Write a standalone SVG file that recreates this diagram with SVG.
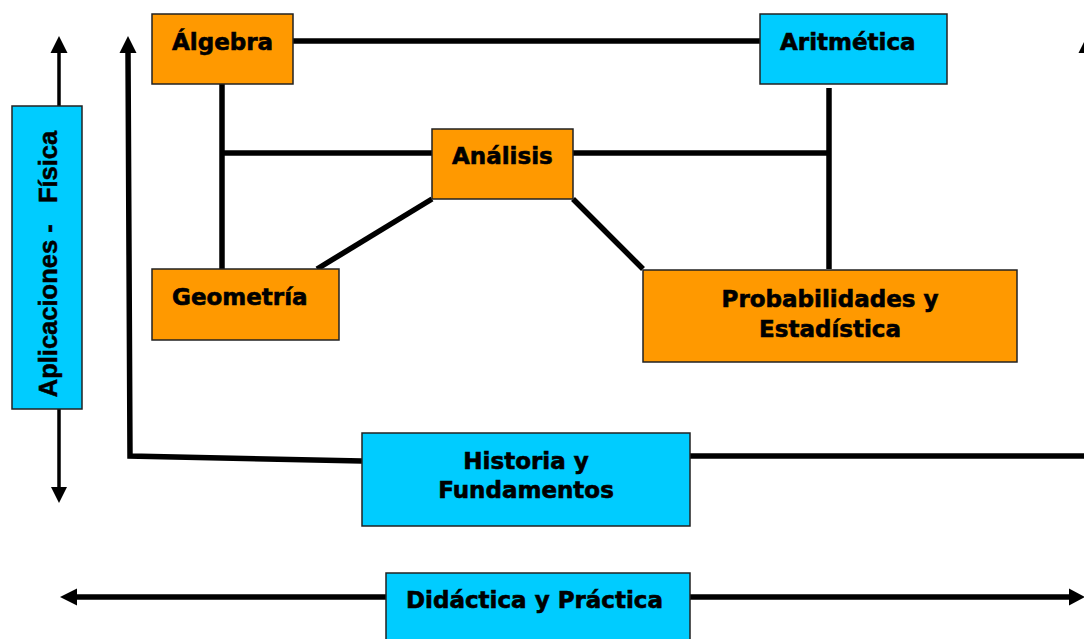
<svg xmlns="http://www.w3.org/2000/svg" width="1084" height="639" viewBox="0 0 1084 639">
<style>
.o{fill:#FF9900;stroke:#222;stroke-width:1.5}
.c{fill:#00CCFF;stroke:#222;stroke-width:1.5}
.t{font-family:"DejaVu Sans",Verdana,sans-serif;font-weight:bold;font-size:23px;fill:#000;stroke:#000;stroke-width:0.6}
.m{text-anchor:middle}
.v{font-family:"Liberation Sans",Arial,sans-serif;font-weight:700;font-size:25.5px;fill:#000;stroke:#000;stroke-width:0.5;white-space:pre;text-anchor:middle}
.ln{stroke:#000;stroke-width:5.5;fill:none}
.th{stroke:#000;stroke-width:3.5;fill:none}
.ah{fill:#000}
</style>
<rect width="1084" height="639" fill="#fff"/>
<g id="connectors">
<line class="ln" x1="293" y1="41" x2="760" y2="41"/>
<line class="ln" x1="222" y1="84" x2="222" y2="269"/>
<line class="ln" x1="829" y1="88" x2="829" y2="269"/>
<line class="ln" x1="222" y1="153" x2="432" y2="153"/>
<line class="ln" x1="573" y1="153" x2="829" y2="153"/>
<line class="ln" x1="432" y1="199" x2="317" y2="269"/>
<line class="ln" x1="573" y1="199" x2="643" y2="269"/>
<polyline class="ln" points="362,461 130,456 128,50"/>
<polygon class="ah" points="128,36 119.5,53 136.5,53"/>
<line class="ln" x1="690" y1="456" x2="1084" y2="456"/>
<polygon class="ah" points="1087,36 1078.5,53 1095.5,53"/>
<line class="th" x1="59" y1="50" x2="59" y2="106"/>
<polygon class="ah" points="59,36 50.5,53 67.5,53"/>
<line class="th" x1="59" y1="409" x2="59" y2="490"/>
<polygon class="ah" points="59,503 51,487 67,487"/>
<line class="ln" x1="386" y1="597" x2="72" y2="597"/>
<polygon class="ah" points="60,597 77,588.5 77,605.5"/>
<line class="ln" x1="690" y1="597" x2="1072" y2="597"/>
<polygon class="ah" points="1085,597 1069,588.5 1069,605.5"/>
</g>
<g id="algebra"><rect class="o" x="152" y="14" width="141" height="70"/><text class="t" x="172" y="50">Álgebra</text></g>
<g id="aritmetica"><rect class="c" x="760" y="14" width="187" height="70"/><text class="t" x="780" y="50">Aritmética</text></g>
<g id="analisis"><rect class="o" x="432" y="129" width="141" height="70"/><text class="t" x="452" y="164">Análisis</text></g>
<g id="geometria"><rect class="o" x="152" y="269" width="187" height="71"/><text class="t" x="172" y="305">Geometría</text></g>
<g id="probabilidades"><rect class="o" x="643" y="270" width="374" height="92"/><text class="t m" x="830" y="307">Probabilidades y</text><text class="t m" x="830" y="337">Estadística</text></g>
<g id="historia"><rect class="c" x="362" y="433" width="328" height="93"/><text class="t m" x="526" y="469">Historia y</text><text class="t m" x="526" y="498">Fundamentos</text></g>
<g id="didactica"><rect class="c" x="386" y="573" width="304" height="70"/><text class="t" x="406" y="608">Didáctica y Práctica</text></g>
<g id="aplicaciones"><rect class="c" x="12" y="106" width="70" height="303"/><text class="v" transform="translate(57,264) rotate(-90)">Aplicaciones -   Física</text></g>
</svg>
